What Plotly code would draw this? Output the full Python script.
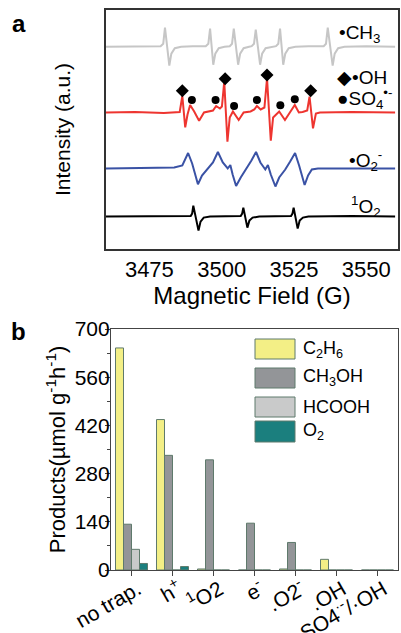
import plotly.graph_objects as go

# ---------------- Panel a: EPR spectra (relative intensity, a.u.) ----------------
ch3_field = [3460, 3470, 3478.9, 3479.8, 3480.4, 3481.9, 3482.6, 3483.8, 3486, 3490,
             3494.5, 3495.4, 3496.0, 3497.1, 3497.8, 3499, 3501, 3502.8, 3503.6, 3504.2,
             3505.7, 3506.4, 3507.6, 3509.5, 3510.4, 3511.2, 3511.8, 3513.3, 3514, 3515.2,
             3517.5, 3518.8, 3519.6, 3520.2, 3521.3, 3522, 3523.2, 3525.5, 3530, 3535.3,
             3536.1, 3536.7, 3538.4, 3539.1, 3540.3, 3542.5, 3550, 3560]
ch3_int = [0, 0.5, 0.5, 3, 19, -19, -7, -1.5, 0, 0.5,
           0.5, 3, 18, -18, -7, -1.5, 0, 0.5, 3, 18,
           -18, -7, -1.5, 0, 0.5, 3, 17, -18, -7, -1.5,
           0, 0.5, 3, 18, -18, -7, -1.5, 0, 0.5, 0.5,
           3, 19, -19, -7, -1.5, 0, 0.5, 0]

oh_field = [3460, 3470, 3480, 3485.5, 3486.4, 3487.4, 3488.2, 3489.1, 3490.5, 3492.2,
            3493.9, 3495.5, 3497, 3498.1, 3499.4, 3500.1, 3500.9, 3502.0, 3502.8, 3503.9,
            3505.9, 3507.6, 3510, 3511.3, 3512.2, 3513.5, 3514.8, 3515.7, 3517.0, 3517.8,
            3519.9, 3521.9, 3523.6, 3525.3, 3526.7, 3528, 3529.6, 3530.4, 3531.6, 3532.6,
            3534, 3545, 3560]
oh_int = [0, 0.5, -0.5, 0.5, 16.5, -14.8, -2, 7.5, 1, -8.2,
          0, 1, 2, 6.5, 4, 6, 30.8, -29.2, -5, 1,
          -7.5, 0, 1, 3, 6.5, 3, 5, 34.2, -28.2, -5,
          1, -7.5, 0, 7.5, 0, 0.5, 2, 15.8, -15.8, -1,
          0, 0.5, 0]

oh_mark_field = [3486.4, 3501.2, 3515.7, 3530.8]
oh_mark_level = [21.8, 33.8, 37.5, 21.8]
so4_mark_field = [3489.7, 3497.9, 3504.3, 3512.2, 3520.3, 3525.3]
so4_mark_level = [12.5, 12.5, 6.5, 12.5, 7.2, 13.2]

o2_field = [3460, 3475.1, 3483.6, 3486.4, 3488.4, 3489.8, 3491.8, 3493.2, 3494.9, 3497.0,
            3498.7, 3500.4, 3502.1, 3503.0, 3503.8, 3505.0, 3506.6, 3508.6, 3510.3, 3511.9,
            3513.4, 3515.1, 3516.0, 3517.0, 3518.6, 3519.9, 3522.0, 3523.7, 3525.4, 3526.8,
            3528.7, 3529.9, 3531.2, 3533.3, 3560]
o2_int = [0, 0.5, 1, 3, 15.5, 5, -15.8, -7, -1, 6,
          16.5, 6, 0, 3.5, -6, -17.5, -9, 0, 8, 16.5,
          6, -1, 3.5, -6, -18, -9, -1, 7, 15.5, 3,
          -16.5, -7, -1, 0, 0]

so_field = [3460, 3475, 3489.3, 3489.8, 3490.2, 3492.0, 3492.7, 3493.8, 3496, 3506.6,
            3507.1, 3507.5, 3508.9, 3509.6, 3510.7, 3513, 3524, 3524.5, 3524.9, 3526.3,
            3527, 3528.1, 3530, 3545, 3560]
so_int = [0, 0.5, 0.5, 3, 11, -14, -5, -1, 0, 0.5,
          3, 9, -11, -4, -1, 0, 0.5, 3, 9, -12,
          -4, -1, 0, 0.5, 0]

field_ticks = [3475, 3500, 3525, 3550]

# ---------------- Panel b: products ----------------
categories = ["no trap.", "h<sup>+</sup>", "<sup>1</sup>O2", "e<sup>-</sup>",
              ".O2<sup>-</sup>", ".OH", "SO4<sup>·-</sup>/·OH"]
c2h6 = [645, 437, 3, 0, 3, 31, 0]
ch3oh = [133, 333, 320, 136, 80, 0, 0]
hcooh = [60, 0, 0, 0, 0, 0, 0]
o2 = [19, 10, 0, 0, 0, 0, 0]
product_names = ["C<sub>2</sub>H<sub>6</sub>", "CH<sub>3</sub>OH", "HCOOH", "O<sub>2</sub>"]
product_ticks = [0, 140, 280, 420, 560, 700]

FONT = "Liberation Sans, Arial, sans-serif"
W, H = 401, 633

# layout positions (pixels -> paper)
def px(x):
    return x / W

def py(y):
    return 1 - y / H

offsets = [202.3, 136.5, 80.5, 32.4]  # stacking baselines for spectra

fig = go.Figure()

spectra = [(ch3_field, ch3_int, "#C6C6C6"), (oh_field, oh_int, "#EE3530"),
           (o2_field, o2_int, "#3A52A5"), (so_field, so_int, "#000000")]
for (f, v, c), off in zip(spectra, offsets):
    fig.add_trace(go.Scatter(x=f, y=[off + a for a in v], mode="lines",
                             line=dict(color=c, width=2), showlegend=False,
                             xaxis="x", yaxis="y"))

fig.add_trace(go.Scatter(x=oh_mark_field, y=[offsets[1] + a for a in oh_mark_level],
                         mode="markers", marker=dict(symbol="diamond", size=10, color="black"),
                         showlegend=False, xaxis="x", yaxis="y"))
fig.add_trace(go.Scatter(x=so4_mark_field, y=[offsets[1] + a for a in so4_mark_level],
                         mode="markers", marker=dict(symbol="circle", size=8, color="black"),
                         showlegend=False, xaxis="x", yaxis="y"))

bar_fill = ["#F3EF86", "#939598", "#C9CACA", "#1B7F7E"]
bar_line = "#5F7A6C"
for name, vals, col in zip(product_names, [c2h6, ch3oh, hcooh, o2], bar_fill):
    fig.add_trace(go.Bar(x=categories, y=vals, name=name, marker=dict(color=col,
                         line=dict(color=bar_line, width=1)), showlegend=False,
                         xaxis="x2", yaxis="y2"))

fig.update_layout(
    width=W, height=H, margin=dict(l=0, r=0, t=0, b=0, autoexpand=False),
    paper_bgcolor="white", plot_bgcolor="white",
    font=dict(family=FONT, color="black"),
    barmode="group", bargap=0.22, bargroupgap=0,
    xaxis=dict(domain=[px(106), px(398)], anchor="y", range=[3460, 3561],
               tickvals=field_ticks, ticks="", automargin=False,
               tickfont=dict(family=FONT, size=22, color="black"),
               showline=True, mirror=True, linecolor="#333", linewidth=1.5,
               showgrid=False, zeroline=False,
               title=dict(text="Magnetic Field (G)", font=dict(family=FONT, size=24), standoff=6)),
    yaxis=dict(domain=[py(249), py(10)], anchor="x", range=[0, 239], automargin=False,
               showticklabels=False, ticks="", showgrid=False, zeroline=False,
               showline=True, mirror=True, linecolor="#333", linewidth=1.5,
               title=dict(text="Intensity (a.u.)", font=dict(family=FONT, size=21), standoff=28)),
    xaxis2=dict(domain=[px(111), px(398)], anchor="y2", range=[-0.5, 6.5], automargin=False,
                type="category", ticks="outside", ticklen=5, tickcolor="#444",
                tickangle=-30, tickfont=dict(family=FONT, size=21, color="black"),
                ticklabelstandoff=-7, ticklabelshift=6,
                showline=True, mirror=True, linecolor="#444", linewidth=1.2,
                showgrid=False, zeroline=False),
    yaxis2=dict(domain=[py(570), py(329)], anchor="x2", range=[0, 700], automargin=False,
                tickvals=product_ticks, ticks="outside", ticklen=5, tickcolor="#444",
                tickfont=dict(family=FONT, size=21, color="black"),
                ticklabelstandoff=-9,
                minor=dict(dtick=70, ticks="outside", ticklen=3, tickcolor="#444"),
                showline=True, mirror=True, linecolor="#444", linewidth=1.2,
                showgrid=False, zeroline=False,
                title=dict(text="Products(µmol g<sup>-1</sup>h<sup>-1</sup>)",
                           font=dict(family=FONT, size=22), standoff=2)),
)

ann = []
# panel letters
ann.append(dict(text="<b>a</b>", x=px(10), y=py(8), xref="paper", yref="paper",
                xanchor="left", yanchor="top", showarrow=False, font=dict(size=24, family=FONT)))
ann.append(dict(text="<b>b</b>", x=px(9), y=py(316), xref="paper", yref="paper",
                xanchor="left", yanchor="top", showarrow=False, font=dict(size=24, family=FONT)))
# spectrum labels
lab_font = dict(family=FONT, size=19, color="black")
spec_labels = [("•CH<sub>3</sub>", 337, 34), ("◆•OH", 335, 78), ("●SO<sub>4</sub><sup>•-</sup>", 335, 99),
               ("•O<sub>2</sub><sup>-</sup>", 347, 160), ("<sup>1</sup>O<sub>2</sub>", 349, 207)]
for t, x, y in spec_labels:
    ann.append(dict(text=t, x=px(x), y=py(y), xref="paper", yref="paper", xanchor="left",
                    yanchor="middle", showarrow=False, font=lab_font))
# bar legend
shapes = []
leg_rows = [(339, 359), (368, 388), (397, 417), (421, 442)]
for (y0, y1), name, col in zip(leg_rows, product_names, bar_fill):
    shapes.append(dict(type="rect", xref="paper", yref="paper", x0=px(255), x1=px(295),
                       y0=py(y1), y1=py(y0), fillcolor=col, line=dict(color=bar_line, width=1)))
    ann.append(dict(text=name, x=px(301), y=py((y0 + y1) / 2), xref="paper", yref="paper",
                    xanchor="left", yanchor="middle", showarrow=False,
                    font=dict(family=FONT, size=18, color="black")))
fig.update_layout(annotations=ann, shapes=shapes)

fig.write_html("out.html", config={"displayModeBar": False},
               post_script="document.body.style.margin='0';")
